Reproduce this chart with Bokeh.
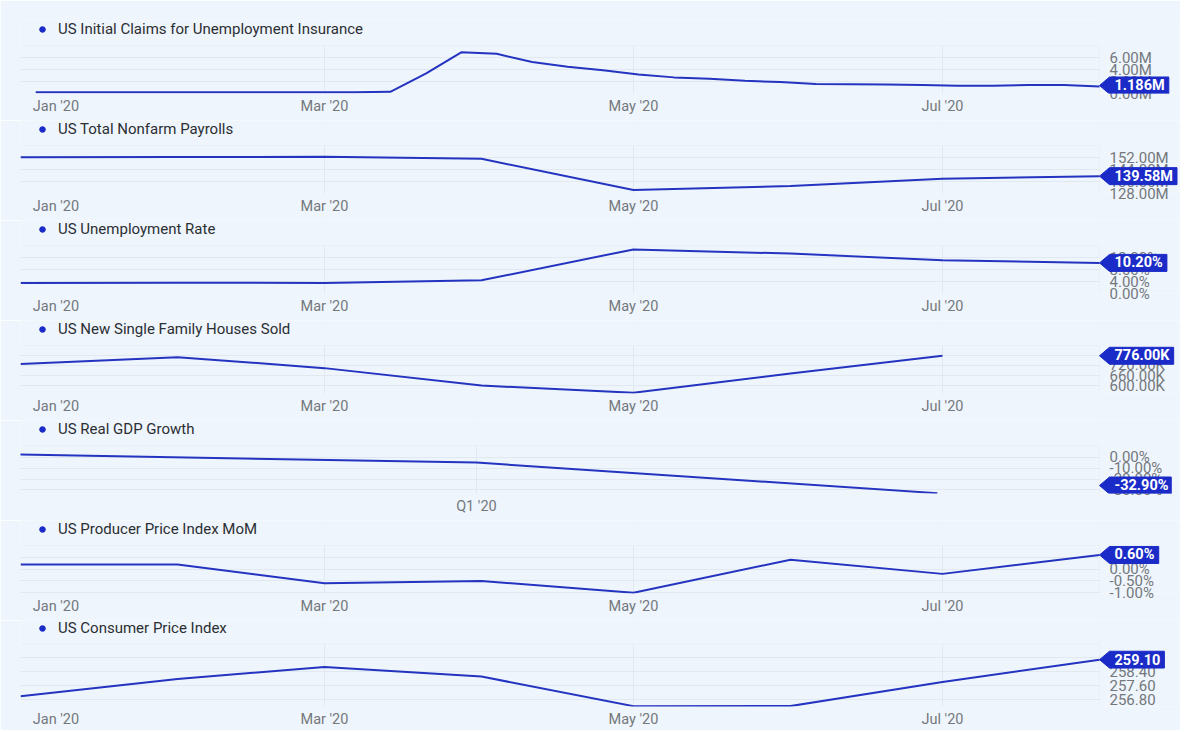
from datetime import datetime
from bokeh.plotting import figure
from bokeh.layouts import column
from bokeh.models import (Range1d, FixedTicker, PrintfTickFormatter, DatetimeTickFormatter,
                          Label, PolyAnnotation, BoxAnnotation, Legend, LegendItem)
from bokeh.embed import file_html
from bokeh.resources import INLINE

# ---------------- data ----------------
weekly_dates = ["2020-01-04", "2020-01-11", "2020-01-18", "2020-01-25", "2020-02-01", "2020-02-08",
                "2020-02-15", "2020-02-22", "2020-02-29", "2020-03-07", "2020-03-14", "2020-03-21",
                "2020-03-28", "2020-04-04", "2020-04-11", "2020-04-18", "2020-04-25", "2020-05-02",
                "2020-05-09", "2020-05-16", "2020-05-23", "2020-05-30", "2020-06-06", "2020-06-13",
                "2020-06-20", "2020-06-27", "2020-07-04", "2020-07-11", "2020-07-18", "2020-07-25",
                "2020-08-01"]
initial_claims_m = [0.214, 0.207, 0.223, 0.216, 0.203, 0.205, 0.211, 0.220, 0.217, 0.211, 0.282, 3.307,
                    6.867, 6.615, 5.237, 4.442, 3.867, 3.176, 2.687, 2.446, 2.123, 1.897, 1.566, 1.540,
                    1.482, 1.413, 1.310, 1.307, 1.422, 1.435, 1.186]

monthly_dates = ["2020-01-01", "2020-02-01", "2020-03-01", "2020-04-01", "2020-05-01", "2020-06-01",
                 "2020-07-01", "2020-08-01"]
nonfarm_payrolls_m = [152.2, 152.3, 152.5, 151.1, 130.3, 133.0, 137.8, 139.58]
unemployment_rate = [3.5, 3.6, 3.5, 4.4, 14.7, 13.3, 11.1, 10.2]
ppi_mom = [0.2, 0.2, -0.6, -0.5, -1.0, 0.4, -0.2, 0.6]
cpi = [256.974, 257.971, 258.678, 258.115, 256.389, 256.394, 257.797, 259.101]

home_dates = ["2020-01-01", "2020-02-01", "2020-03-01", "2020-04-01", "2020-05-01", "2020-06-01",
              "2020-07-01"]
new_home_sales_k = [728, 768, 704, 602, 560, 672, 776]

gdp_dates = ["2019-12-31", "2020-03-31", "2020-06-30"]
real_gdp_growth = [2.4, -5.0, -32.9]

month_ticks = ["2020-01-08", "2020-03-01", "2020-05-01", "2020-07-01"]
month_grid = ["2020-01-01", "2020-03-01", "2020-05-01", "2020-07-01"]
quarter_ticks = ["2020-03-31"]
x_start, x_last = "2020-01-01", "2020-08-01"

# ---------------- style ----------------
BG = "#eff5fc"
LINE = "#2433c0"
BADGE = "#1b2bc8"
GRID = "#e2e8ef"
OUTLINE = "#dce3eb"
AXIS_TXT = "#74787d"
TITLE_TXT = "#2b2f33"
FONT = "Roboto"
W = 1180
ML = 20              # frame left edge
DATA_W = 1079        # pixels from x_start to x_last
FRAME_RIGHT = 1178
MR = W - FRAME_RIGHT
FW = FRAME_RIGHT - ML
LABEL_LEFT = 1109
LEGEND_H = 18

EPOCH = datetime(1970, 1, 1)


def d(s):
    return datetime.fromisoformat(s)


def ms(s):
    return (d(s) - EPOCH).total_seconds() * 1000.0


X0 = ms(x_start)
XL = ms(x_last)
MS_PER_PX = (XL - X0) / DATA_W
X1 = X0 + FW * MS_PER_PX

CHAR_W = {".": 0.27, "M": 0.87, "K": 0.64, "%": 0.74, "-": 0.30}


def text_width(t, size):
    return sum(CHAR_W.get(c, 0.565) for c in t) * size


def panel(title, dates, values, y0, y1, yticks, fmt, badge, border_top, head, fh, bottom,
          xticks=month_ticks, xgrid=month_grid, xfmt="%b '%y"):
    per_px = (y1 - y0) / fh
    frame_h = head + fh
    p = figure(width=W, height=border_top + frame_h + bottom, x_axis_type="datetime",
               y_axis_location="right",
               x_range=Range1d(X0, X1), y_range=Range1d(y0, y1 + head * per_px),
               output_backend="svg", toolbar_location=None, title=None,
               min_border_left=ML, min_border_right=MR, min_border_top=border_top,
               min_border_bottom=bottom,
               background_fill_color=BG, border_fill_color=BG, outline_line_color=None)

    # x axis
    xa = p.xaxis[0]
    xa.ticker = FixedTicker(ticks=[ms(s) for s in xticks])
    xa.formatter = DatetimeTickFormatter(days=xfmt, months=xfmt, years=xfmt, hours=xfmt,
                                         minutes=xfmt, seconds=xfmt, milliseconds=xfmt,
                                         microseconds=xfmt, hourmin=xfmt, minsec=xfmt)
    xa.axis_line_color = None
    xa.major_tick_line_color = None
    xa.minor_tick_line_color = None
    xa.major_tick_out = 0
    xa.major_tick_in = 0
    xa.major_label_standoff = 4
    xa.major_label_text_font = FONT
    xa.major_label_text_font_size = "14.5px"
    xa.major_label_text_color = AXIS_TXT
    p.xgrid.ticker = FixedTicker(ticks=[ms(s) for s in xgrid])
    p.xgrid.grid_line_color = GRID

    # y axis (labels pulled back over the badge zone)
    ya = p.yaxis[0]
    ya.ticker = FixedTicker(ticks=yticks)
    ya.formatter = PrintfTickFormatter(format=fmt)
    ya.axis_line_color = None
    ya.major_tick_line_color = None
    ya.minor_tick_line_color = None
    ya.major_tick_out = 0
    ya.major_tick_in = 0
    ya.major_label_standoff = LABEL_LEFT - FRAME_RIGHT
    ya.major_label_text_font = FONT
    ya.major_label_text_font_size = "15px"
    ya.major_label_text_color = AXIS_TXT
    p.ygrid.grid_line_color = GRID

    # hide grid outside the data zone (title row and badge column), draw the data-zone box
    p.add_layout(BoxAnnotation(bottom=y1, fill_color=BG, fill_alpha=1.0, line_alpha=0, level="underlay"))
    p.add_layout(BoxAnnotation(left=XL, fill_color=BG, fill_alpha=1.0, line_alpha=0, level="underlay"))
    p.add_layout(BoxAnnotation(left=X0, right=XL, top=y1, fill_alpha=0, line_color=OUTLINE, line_width=1,
                               level="underlay"))

    xs = [d(s) for s in dates]
    p.line(xs, values, line_color=LINE, line_width=2)

    # legend-like title in the head row; the swatch renderer has no drawable point
    dot = p.scatter(x=xs[:1], y=[float("nan")], size=7.5, marker="circle",
                    fill_color=BADGE, line_color=BADGE)
    lg = Legend(items=[LegendItem(label=title, renderers=[dot])], location=(15, frame_h - LEGEND_H),
                padding=0, margin=0, spacing=0, glyph_width=14, glyph_height=LEGEND_H,
                label_height=LEGEND_H, label_standoff=9, label_text_font=FONT,
                label_text_font_size="15px", label_text_color=TITLE_TXT,
                background_fill_alpha=0, border_line_alpha=0)
    p.add_layout(lg)

    # value badge
    h = 8.5 * per_px
    c = min(max(values[-1], y0 + 8 * per_px), y1 - 8 * per_px)
    tw = text_width(badge, 14.5)
    tip = XL
    left = XL + 10 * MS_PER_PX
    right = left + (10 + tw) * MS_PER_PX
    p.add_layout(PolyAnnotation(xs=[tip, left, right, right, left], ys=[c, c + h, c + h, c - h, c - h],
                                fill_color=BADGE, fill_alpha=1.0, line_color=BADGE, line_width=1,
                                line_alpha=1.0))
    p.add_layout(Label(x=left + 5 * MS_PER_PX, y=c, text=badge,
                       text_color="white", text_font=FONT, text_font_size="14.5px",
                       text_font_style="bold", text_align="left", text_baseline="middle"))
    return p


figs = [
    panel("US Initial Claims for Unemployment Insurance", weekly_dates, initial_claims_m,
          0, 8, [0, 2, 4, 6], "%.2fM", "1.186M", 20, 25, 48, 27),
    panel("US Total Nonfarm Payrolls", monthly_dates, nonfarm_payrolls_m,
          128, 160, [128, 136, 144, 152], "%.2fM", "139.58M", 0, 25, 48, 27),
    panel("US Unemployment Rate", monthly_dates, unemployment_rate,
          0, 16, [0, 4, 8, 12], "%.2f%%", "10.20%", 0, 25, 48, 27),
    panel("US New Single Family Houses Sold", home_dates, new_home_sales_k,
          556, 836, [600, 660, 720, 780], "%.2fK", "776.00K", 0, 25, 48, 27),
    panel("US Real GDP Growth", gdp_dates, real_gdp_growth,
          -33.2, 10.6, [-30, -20, -10, 0], "%.2f%%", "-32.90%", 0, 25, 48, 27,
          xticks=quarter_ticks, xgrid=quarter_ticks, xfmt="Q1 '%y"),
    panel("US Producer Price Index MoM", monthly_dates, ppi_mom,
          -1.03, 1.0, [-1.0, -0.5, 0.0, 0.5], "%.2f%%", "0.60%", 0, 25, 48, 27),
    panel("US Consumer Price Index", monthly_dates, cpi,
          256.37, 260.0, [256.8, 257.6, 258.4, 259.2], "%.2f", "259.10", 0, 24, 63, 23),
]

layout = column(*figs, spacing=0)
open("out.html", "w").write(file_html(layout, INLINE))
